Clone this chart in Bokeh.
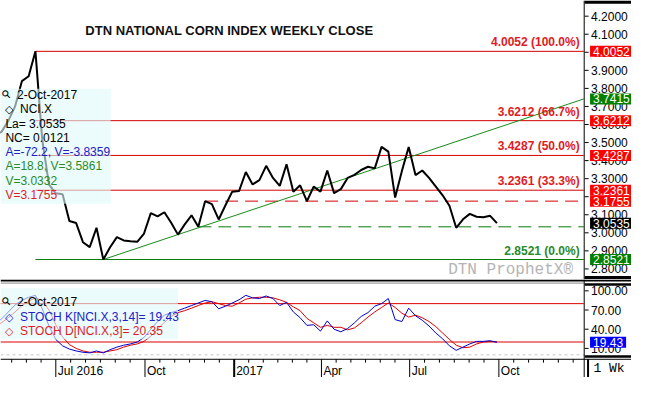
import datetime as dt
import pandas as pd
from bokeh.plotting import figure
from bokeh.layouts import column
from bokeh.models import Range1d, Label, Span, BoxAnnotation, ColumnDataSource
from bokeh.core.properties import value
from bokeh.embed import file_html
from bokeh.resources import INLINE

# ---------------- data ----------------
week_dates = pd.date_range("2016-04-29", "2017-09-29", freq="7D")

price = [3.543, 3.559, 3.620, 3.700, 3.840, 3.867, 4.0052, 3.516, 3.267, 3.219,
         3.214, 3.065, 3.054, 2.948, 2.921, 3.028, 2.8521, 2.920, 2.976, 2.958,
         2.953, 2.950, 2.996, 3.109, 3.091, 3.114, 3.056, 2.990, 3.047, 3.097,
         3.0332, 3.1755, 3.159, 3.074, 3.153, 3.228, 3.231, 3.337, 3.268, 3.292,
         3.371, 3.304, 3.260, 3.380, 3.228, 3.263, 3.175, 3.256, 3.228, 3.345,
         3.220, 3.242, 3.304, 3.321, 3.348, 3.366, 3.357, 3.476, 3.450, 3.195,
         3.343, 3.475, 3.320, 3.345, 3.304, 3.256, 3.208, 3.150, 3.028, 3.075,
         3.105, 3.089, 3.086, 3.094, 3.0535]

stoch_k = [48, 56, 67, 78, 85, 90, 93, 72, 45, 24,
           14, 9, 6, 4, 3, 6, 3, 8, 12, 15,
           17, 20, 27, 40, 52, 62, 66, 69, 73, 77,
           81, 85, 83, 72, 76, 81, 86, 93, 89, 88,
           92, 88, 77, 82, 67, 58, 46, 47, 37, 53,
           40, 36, 41, 50, 60, 66, 76, 80, 88, 55,
           52, 73, 61, 54, 45, 34, 25, 14, 7, 12,
           17, 21, 21, 22, 19.43]

stoch_d = [45, 50, 58, 67, 77, 84, 89, 85, 70, 47,
           28, 16, 10, 6, 4, 4, 4, 6, 8, 12,
           15, 17, 21, 29, 40, 51, 60, 66, 69, 73,
           77, 81, 83, 80, 77, 76, 81, 87, 89, 90,
           90, 89, 86, 82, 75, 69, 57, 50, 43, 46,
           43, 43, 39, 42, 50, 59, 67, 74, 81, 74,
           65, 59, 62, 58, 52, 44, 34, 24, 15, 11,
           12, 17, 20, 21, 20.35]

fib_levels = [4.0052, 3.6212, 3.4287, 3.2361, 2.8521]
fib_pcts = ["100.0%", "66.7%", "50.0%", "33.3%", "0.0%"]
support_red = 3.1755
support_green = 3.0332
trend_start = 2.8521
trend_end = 3.7415
last_close = 3.0535

price_ticks = [2.8, 2.9, 3.0, 3.1, 3.2, 3.3, 3.4, 3.5, 3.6, 3.7, 3.8, 3.9, 4.0, 4.1, 4.2]
stoch_ticks = [10, 40, 70, 100]
stoch_levels = [80, 20]
quarter_dates = ["2016-04-01", "2016-07-01", "2016-10-01", "2017-01-01", "2017-04-01",
                 "2017-07-01", "2017-10-01", "2018-01-01"]
quarter_labels = ["", "Jul 2016", "Oct", "2017", "Apr", "Jul", "Oct", ""]

# ---------------- layout helpers (reference-pixel -> data) ----------------
EPOCH = dt.datetime(1970, 1, 1)
def ms(d):
    return (pd.Timestamp(d).to_pydatetime() - EPOCH).total_seconds() * 1000.0

PX_PER_DAY = 0.9941
X0 = dt.datetime(2016, 7, 1) - dt.timedelta(days=56.7 / PX_PER_DAY)
def xref(px):
    return ms(X0 + dt.timedelta(days=px / PX_PER_DAY))
def ytop(py):
    return 4.0052 - (py - 53) / 188.2
def ylow(py):
    return 80 - (py - 316) * 1.5

W, H = 631, 377
SY = H / 393.0
H1 = 279
H2 = H - H1
B = H1 / SY          # reference y where the two panels meet

XE = xref(598)       # right edge of the plotting area
XR = xref(599)       # start of the right scale column
FONT = "Liberation Sans"
RED = "#d40000"
RED_T = "#e01b24"
GREEN = "#0a7a0a"
GREEN_T = "#2a8a2a"
BLUE_T = "#2020c8"
BOX_PAD = dict(left=3, right=3, top=1, bottom=1)

x_range = Range1d(xref(0), xref(647))

def bare(height, y_range):
    p = figure(width=W, height=height, x_axis_type="datetime", x_axis_location=None,
               y_axis_location=None, x_range=x_range, y_range=y_range,
               toolbar_location=None, output_backend="svg",
               min_border=0, min_border_left=0, min_border_right=0,
               min_border_top=0, min_border_bottom=0)
    p.xgrid.visible = False
    p.ygrid.visible = False
    p.outline_line_color = None
    p.background_fill_color = "white"
    p.border_fill_color = "white"
    return p

def scale_column(p, ticks, labels):
    n = len(ticks)
    p.segment(x0=[XR] * n, y0=ticks, x1=[xref(603)] * n, y1=ticks, color="black", line_width=1)
    p.text(x=[xref(605.5)] * n, y=ticks, text=labels, text_font=value(FONT),
           text_font_size="12px", text_baseline="middle", text_align="left", text_color="black")

def value_box(p, v, txt, color):
    p.add_layout(Label(x=xref(604.5), y=v, text=txt, text_align="left",
                       text_baseline="middle", text_color="white", background_fill_color=color,
                       text_font=FONT, text_font_size="12px", padding=BOX_PAD))

# ---------------- upper panel ----------------
p1 = bare(H1, Range1d(ytop(B), ytop(0)))

peak_i = price.index(max(price))
peak_date = ms(week_dates[peak_i])
fib_src = ColumnDataSource(dict(
    x0=[peak_date] * len(fib_levels), x1=[XE] * len(fib_levels),
    y=fib_levels, c=[RED, RED, RED, RED, GREEN]))
p1.segment(x0="x0", y0="y", x1="x1", y1="y", color="c", line_width=1, source=fib_src)

ri = price.index(support_red)
gi = price.index(support_green)
p1.segment(x0=[ms(week_dates[ri])], y0=[support_red], x1=[XE], y1=[support_red],
           color=RED, line_width=1, line_dash="13 7")
p1.segment(x0=[ms(week_dates[gi])], y0=[support_green], x1=[XE], y1=[support_green],
           color=GREEN, line_width=1, line_dash="13 7")

ti = price.index(trend_start)
p1.segment(x0=[ms(week_dates[ti])], y0=[trend_start], x1=[XE], y1=[trend_end],
           color="#1a8a1a", line_width=1)

p1.line(x=[ms(d) for d in week_dates], y=price, color="black", line_width=2)

# right scale
scale_column(p1, price_ticks, [f"{t:.4f}" for t in price_ticks])
p1.add_layout(Span(location=xref(598.5), dimension="height", line_color="black", line_width=1))
p1.add_layout(BoxAnnotation(left=XR, right=xref(647), top=ytop(0), bottom=ytop(3.3),
                            fill_color="black", fill_alpha=1, line_color=None))
p1.add_layout(BoxAnnotation(left=XR, right=xref(647), top=ytop(287.3), bottom=ytop(B),
                            fill_color="black", fill_alpha=1, line_color=None))

# fib labels
for lvl, pct, col in zip(fib_levels, fib_pcts, [RED_T] * 4 + [GREEN_T]):
    p1.add_layout(Label(x=XE, y=lvl, x_offset=-4, y_offset=2, text=f"{lvl:.4f} ({pct})",
                        text_align="right", text_baseline="bottom", text_color=col,
                        text_font=FONT, text_font_size="12px", text_font_style="bold"))

# right-axis value boxes
box_vals = [fib_levels[0], trend_end, fib_levels[1], fib_levels[2], fib_levels[3],
            support_red, last_close, fib_levels[4]]
box_cols = ["#ff0000", "#008000", "#ff0000", "#ff0000", "#ff0000", "#ff0000", "#000000", "#008000"]
for v, c in zip(box_vals, box_cols):
    value_box(p1, v, f"{v:.4f}", c)

# title
p1.add_layout(Label(x=xref(87), y=ytop(31), text="DTN NATIONAL CORN INDEX WEEKLY CLOSE",
                    text_align="left", text_baseline="middle", text_font=FONT,
                    text_font_size="13px", text_font_style="bold", text_color="#111111"))
# watermark
p1.add_layout(Label(x=xref(587), y=ytop(281), text="DTN ProphetX\u00ae", text_align="right",
                    text_baseline="middle", text_font="Liberation Mono",
                    text_font_size="16px", text_color="#b4b4b4"))

# legend box
p1.add_layout(BoxAnnotation(left=xref(0), right=xref(113), top=ytop(92), bottom=ytop(212),
                            fill_color="#e0fafa", fill_alpha=0.62, line_color=None))
leg_rows = [(17, 98.7, "2-Oct-2017", "black"), (20, 113.3, "NCI.X", "black"),
            (5, 128.7, "La= 3.0535", "black"), (5, 143.3, "NC= 0.0121", "black"),
            (5, 158.0, "A=-72.2, V=-3.8359", BLUE_T), (5, 173.0, "A=18.8, V=3.5861", GREEN_T),
            (5, 188.0, "V=3.0332", GREEN_T), (5, 202.7, "V=3.1755", RED_T)]
for px, py, t, c in leg_rows:
    p1.add_layout(Label(x=xref(px), y=ytop(py), text=t, text_align="left", text_baseline="middle",
                        text_color=c, text_font=FONT, text_font_size="12px"))
p1.add_layout(Label(x=xref(6), y=ytop(98), text="\u26b2", angle=0.785, text_align="center",
                    text_baseline="middle", text_font="DejaVu Sans", text_font_size="11px",
                    text_color="black"))
p1.add_layout(Label(x=xref(9), y=ytop(113.3), text="\u25c7", text_align="center",
                    text_baseline="middle", text_font="DejaVu Sans", text_font_size="11px",
                    text_font_style="bold", text_color="black"))

# ---------------- lower panel ----------------
p2 = bare(H2, Range1d(ylow(393), ylow(B)))

# separators
p2.segment(x0=[xref(0)], y0=[ylow(292)], x1=[xref(647)], y1=[ylow(292)], color="black", line_width=2)
p2.segment(x0=[xref(0)], y0=[ylow(294.6)], x1=[XE], y1=[ylow(294.6)], color="#8a8a8a", line_width=1)
p2.add_layout(BoxAnnotation(left=XR, right=xref(647), top=ylow(294.7), bottom=ylow(297.3),
                            fill_color="black", fill_alpha=1, line_color=None))
p2.add_layout(BoxAnnotation(left=XR, right=xref(647), top=ylow(369.7), bottom=ylow(372.3),
                            fill_color="black", fill_alpha=1, line_color=None))
p2.add_layout(Span(location=xref(598.5), dimension="height", line_color="black", line_width=1))

# reference levels
nl = len(stoch_levels)
p2.segment(x0=[xref(0)] * nl, y0=stoch_levels, x1=[XE] * nl, y1=stoch_levels,
           color="#dd0000", line_width=1)
p2.segment(x0=[xref(0)], y0=[0], x1=[XE], y1=[0], color="#c8c8c8", line_width=1, line_dash="3 3")

xs_ms = [ms(d) for d in week_dates]
p2.line(x=xs_ms, y=stoch_d, color="#dd0000", line_width=1)
p2.line(x=xs_ms, y=stoch_k, color="#0000cc", line_width=1)

scale_column(p2, stoch_ticks, [f"{t:.2f}" for t in stoch_ticks])

# date axis
p2.segment(x0=[xref(0)], y0=[ylow(374)], x1=[xref(647)], y1=[ylow(374)], color="black", line_width=1)
q_ms = [ms(d) for d in quarter_dates]
nq = len(q_ms)
p2.segment(x0=q_ms, y0=[ylow(374)] * nq, x1=q_ms, y1=[ylow(393)] * nq, color="black",
           line_width=[2 if d.endswith("01-01") else 1 for d in quarter_dates])
minor = []
for a, b in zip(q_ms[:-1], q_ms[1:]):
    for k in range(1, 6):
        minor.append(a + (b - a) * k / 6.0)
minor = [m for m in minor if m < XE]
nm = len(minor)
p2.segment(x0=minor, y0=[ylow(374)] * nm, x1=minor, y1=[ylow(377.5)] * nm, color="black", line_width=1)
p2.text(x=q_ms, y=[ylow(386)] * nq, text=quarter_labels, x_offset=2, text_font=value(FONT),
        text_font_size="12px", text_baseline="middle", text_align="left", text_color="black")
p2.add_layout(Label(x=xref(608), y=ylow(384), text="1 Wk", text_align="left",
                    text_baseline="middle", text_font="Liberation Mono",
                    text_font_size="13px", text_color="black"))
value_box(p2, stoch_k[-1], f"{stoch_k[-1]:.2f}", "#0000ff")

# legend box
p2.add_layout(BoxAnnotation(left=xref(0), right=xref(182), top=ylow(300), bottom=ylow(353),
                            fill_color="#e0fafa", fill_alpha=0.62, line_color=None))
low_rows = [(17, 314.3, "2-Oct-2017", "black"),
            (20, 330.0, f"STOCH K[NCI.X,3,14]= {stoch_k[-1]:.2f}", BLUE_T),
            (20, 345.0, f"STOCH D[NCI.X,3]= {stoch_d[-1]:.2f}", RED_T)]
for px, py, t, c in low_rows:
    p2.add_layout(Label(x=xref(px), y=ylow(py), text=t, text_align="left", text_baseline="middle",
                        text_color=c, text_font=FONT, text_font_size="12px"))
p2.add_layout(Label(x=xref(6), y=ylow(313.6), text="\u26b2", angle=0.785, text_align="center",
                    text_baseline="middle", text_font="DejaVu Sans", text_font_size="11px",
                    text_color="black"))
for py, c in ((330.0, BLUE_T), (345.0, RED_T)):
    p2.add_layout(Label(x=xref(9), y=ylow(py), text="\u25c7", text_align="center",
                        text_baseline="middle", text_font="DejaVu Sans", text_font_size="11px",
                        text_font_style="bold", text_color=c))

layout = column(p1, p2, spacing=0)
open("out.html", "w").write(file_html(layout, INLINE))
